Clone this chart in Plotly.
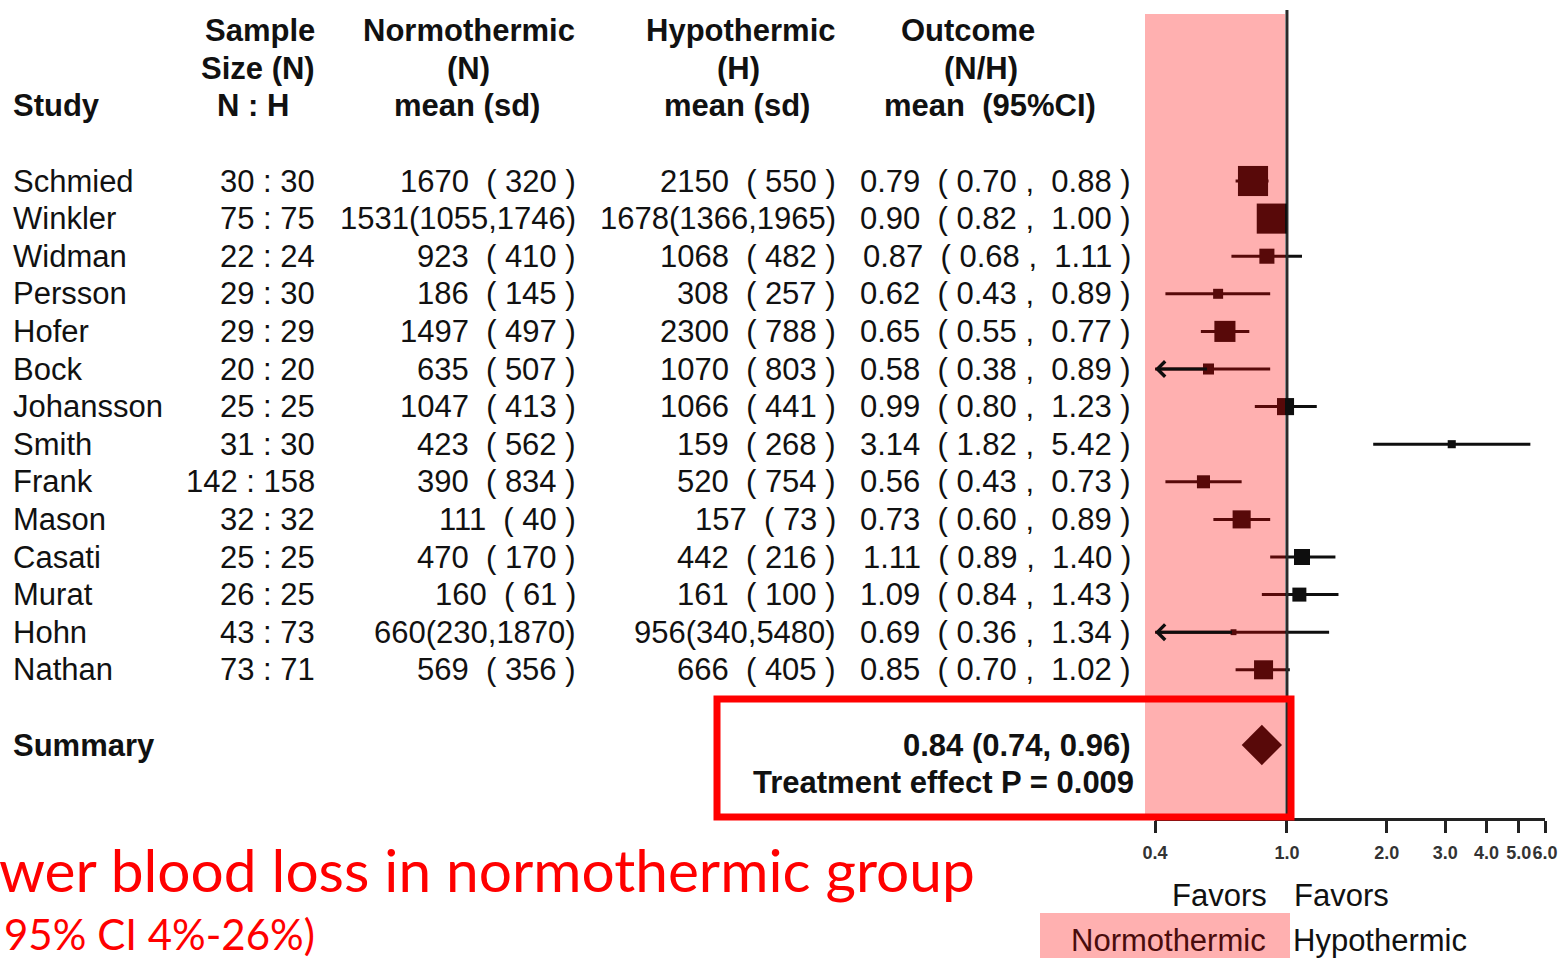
import math
import plotly.graph_objects as go

W, H = 1559, 958

# ---------------- data ----------------
studies = ["Schmied", "Winkler", "Widman", "Persson", "Hofer", "Bock", "Johansson",
           "Smith", "Frank", "Mason", "Casati", "Murat", "Hohn", "Nathan"]
n_normo = [30, 75, 22, 29, 29, 20, 25, 31, 142, 32, 25, 26, 43, 73]
n_hypo = [30, 75, 24, 30, 29, 20, 25, 30, 158, 32, 25, 25, 73, 71]
normo_text = ["1670  ( 320 )", "1531(1055,1746)", "923  ( 410 )", "186  ( 145 )",
              "1497  ( 497 )", "635  ( 507 )", "1047  ( 413 )", "423  ( 562 )",
              "390  ( 834 )", "111  ( 40 )", "470  ( 170 )", "160  ( 61 )",
              "660(230,1870)", "569  ( 356 )"]
hypo_text = ["2150  ( 550 )", "1678(1366,1965)", "1068  ( 482 )", "308  ( 257 )",
             "2300  ( 788 )", "1070  ( 803 )", "1066  ( 441 )", "159  ( 268 )",
             "520  ( 754 )", "157  ( 73 )", "442  ( 216 )", "161  ( 100 )",
             "956(340,5480)", "666  ( 405 )"]
ratio = [0.79, 0.90, 0.87, 0.62, 0.65, 0.58, 0.99, 3.14, 0.56, 0.73, 1.11, 1.09, 0.69, 0.85]
ci_low = [0.70, 0.82, 0.68, 0.43, 0.55, 0.38, 0.80, 1.82, 0.43, 0.60, 0.89, 0.84, 0.36, 0.70]
ci_high = [0.88, 1.00, 1.11, 0.89, 0.77, 0.89, 1.23, 5.42, 0.73, 0.89, 1.40, 1.43, 1.34, 1.02]
weight_pct = [20.8, 20.8, 5.2, 2.3, 10.2, 2.8, 6.7, 1.5, 3.9, 7.5, 5.9, 4.5, 0.8, 8.3]

summary_ratio = 0.84
summary_low = 0.74
summary_high = 0.96
summary_p = "0.009"

axis_ticks = [0.4, 1.0, 2.0, 3.0, 4.0, 5.0, 6.0]
axis_ticktext = ["0.4", "1.0", "2.0", "3.0", "4.0", "5.0", "6.0"]
axis_min, axis_max = 0.4, 6.0

headers = {
    "sample": ["Sample", "Size (N)", "N : H"],
    "normo": ["Normothermic", "(N)", "mean (sd)"],
    "hypo": ["Hypothermic", "(H)", "mean (sd)"],
    "outcome": ["Outcome", "(N/H)", "mean\u00a0\u00a0(95%CI)"],
}

# ---------------- layout helpers ----------------
ROW0, DY = 181.0, 37.6          # pixel centre of first study row, row spacing
NB = "\u00a0"


def px(x):
    return x / W


def py(y):
    return 1 - y / H


def row_of(ypix):
    return (ypix - ROW0) / DY


FONT = "Liberation Sans, Arial, Helvetica, sans-serif"
TXT = "#111111"
FS = 31
INK = "#0e0e0e"

n = len(studies)
summary_row = n + 1

fig = go.Figure()

# CI lines (clipped at lower axis limit)
lx, ly = [], []
for i in range(n):
    lx += [max(ci_low[i], axis_min), min(ci_high[i], axis_max), None]
    ly += [i, i, None]
fig.add_trace(go.Scatter(x=lx, y=ly, mode="lines", xaxis="x2", yaxis="y",
                         line=dict(color=INK, width=3), hoverinfo="skip", showlegend=False))

# reference line at 1
fig.add_trace(go.Scatter(x=[1.0, 1.0], y=[row_of(10), row_of(820)], mode="lines",
                         xaxis="x2", yaxis="y", line=dict(color="#2a2a2a", width=3),
                         hoverinfo="skip", showlegend=False))

# study boxes
fig.add_trace(go.Scatter(x=ratio, y=list(range(n)), mode="markers", xaxis="x2", yaxis="y",
                         marker=dict(symbol="square", color=INK, opacity=1,
                                     size=[6.6 * math.sqrt(w) for w in weight_pct],
                                     line=dict(width=0)),
                         hoverinfo="skip", showlegend=False))

# summary diamond
fig.add_trace(go.Scatter(x=[summary_ratio], y=[summary_row], mode="markers", xaxis="x2", yaxis="y",
                         marker=dict(symbol="diamond", color=INK, size=31, opacity=1, line=dict(width=0)),
                         hoverinfo="skip", showlegend=False))

annotations = []

# arrows for CIs beyond the axis
for i in range(n):
    if ci_low[i] < axis_min:
        annotations.append(dict(x=math.log10(axis_min), y=i, xref="x2", yref="y",
                                ax=math.log10(ratio[i]), ay=i, axref="x2", ayref="y",
                                text="", showarrow=True, arrowhead=4, arrowsize=1.0,
                                arrowwidth=3, arrowcolor=INK, standoff=0))


def txt(x, y, s, anchor, bold=False, size=FS, color=TXT, ref="data", family=FONT):
    d = dict(x=x, y=y, text=("<b>%s</b>" % s) if bold else s, showarrow=False,
             xanchor=anchor, yanchor="middle", borderpad=0,
             font=dict(family=family, size=size, color=color))
    if ref == "data":
        d.update(xref="x", yref="y")
    else:
        d.update(xref="paper", yref="paper")
    annotations.append(d)


# headers
txt(12, -2, "Study", "left", bold=True)
hdr_x = {"sample": [260, 258, 253], "normo": [469, 468, 467],
         "hypo": [740, 738, 737], "outcome": [968, 981, 990]}
for key, lines in headers.items():
    for k, line in enumerate(lines):
        txt(hdr_x[key][k], -4 + k, line, "center", bold=True)

# study rows
for i in range(n):
    txt(12, i, studies[i], "left")
    txt(316, i, "%d : %d" % (n_normo[i], n_hypo[i]), "right")
    txt(577, i, normo_text[i].replace(" ", NB), "right")
    txt(837, i, hypo_text[i].replace(" ", NB), "right")
    outc = "%.2f  ( %.2f ,  %.2f )" % (ratio[i], ci_low[i], ci_high[i])
    txt(1132, i, outc.replace(" ", NB), "right")

# summary
txt(12, summary_row, "Summary", "left", bold=True)
txt(1132, summary_row, "%.2f (%.2f, %.2f)" % (summary_ratio, summary_low, summary_high), "right", bold=True)
txt(1135, summary_row + 1, "Treatment effect P = %s" % summary_p, "right", bold=True)

# favors labels
txt(px(1219), py(895), "Favors", "center", ref="paper")
txt(px(1341), py(895), "Favors", "center", ref="paper")
txt(px(1267), py(940), "Normothermic", "right", ref="paper", color="#4a0c0c")
txt(px(1292), py(940), "Hypothermic", "left", ref="paper")

# red takeaway text
txt(px(-2), py(869), "wer blood loss in normothermic group", "left", ref="paper",
    size=58.6, color="#ff0000", family="Lato, Carlito, sans-serif")
txt(px(3), py(934), "95% CI 4%-26%)", "left", ref="paper",
    size=42, color="#ff0000", family="Lato, Carlito, sans-serif")

shapes = [
    # pink label background (bottom)
    dict(type="rect", xref="paper", yref="paper", x0=px(1040), x1=px(1290), y0=0, y1=py(913),
         fillcolor="#ffb0b0", line=dict(width=0), layer="below"),
    # translucent red highlight over the "favors normothermic" side
    dict(type="rect", xref="paper", yref="paper", x0=px(1145), x1=px(1285), y0=py(820), y1=py(14),
         fillcolor="#ff0000", opacity=0.31, line=dict(width=0), layer="above"),
    # red summary box
    dict(type="rect", xref="paper", yref="paper", x0=px(717), x1=px(1291), y0=py(817), y1=py(699),
         fillcolor="rgba(0,0,0,0)", line=dict(color="#ff0000", width=7), layer="above"),
]

fig.update_layout(
    width=W, height=H,
    margin=dict(l=0, r=0, t=0, b=0, pad=0, autoexpand=False),
    paper_bgcolor="white", plot_bgcolor="rgba(0,0,0,0)",
    showlegend=False,
    xaxis=dict(range=[0, W], domain=[0, 1], visible=False, fixedrange=True, automargin=False),
    xaxis2=dict(type="log", range=[math.log10(axis_min), math.log10(axis_max)],
                domain=[px(1155), px(1545)], anchor="free", position=py(819),
                showgrid=False, zeroline=False, showline=True, linecolor="#222", linewidth=3,
                ticks="outside", ticklen=12, tickwidth=3, tickcolor="#222",
                tickmode="array", tickvals=axis_ticks, ticktext=axis_ticktext, tickangle=0,
                tickfont=dict(family=FONT, size=18, color="#333", weight="bold"),
                ticklabelstandoff=4, automargin=False,
                fixedrange=True),
    yaxis=dict(range=[(H - ROW0) / DY, -ROW0 / DY], domain=[0, 1], visible=False,
               fixedrange=True, automargin=False),
    annotations=annotations,
    shapes=shapes,
)

fig.write_html("out.html", config={"displayModeBar": False})
